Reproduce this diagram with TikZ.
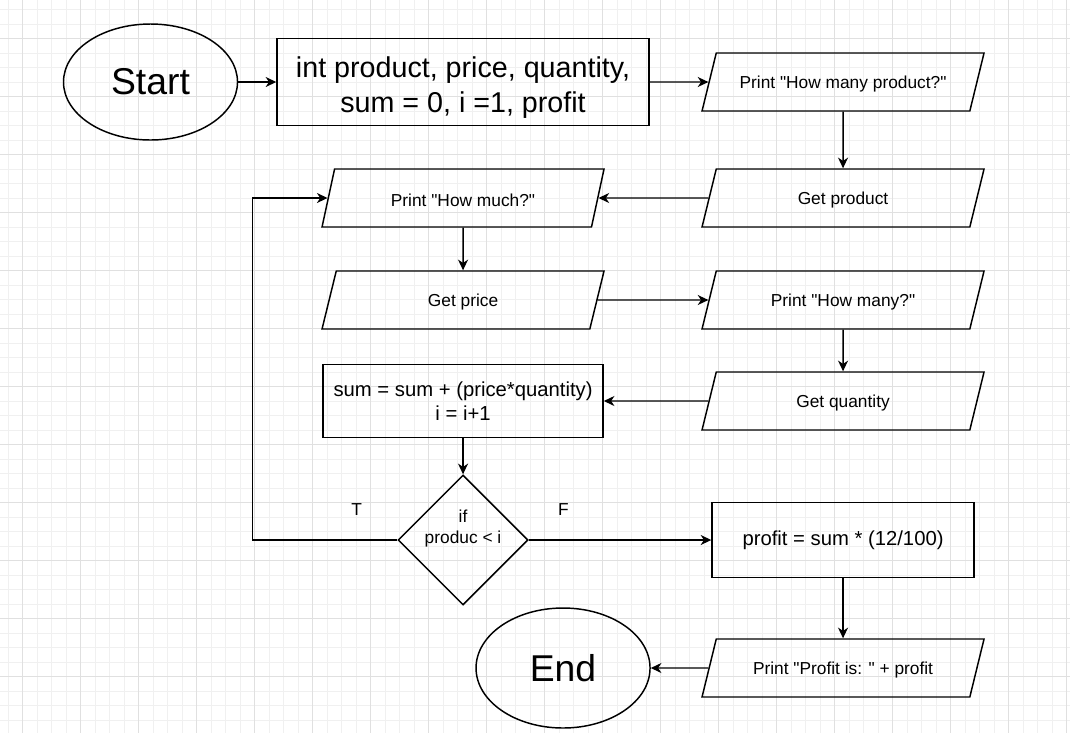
\documentclass[tikz,border=0pt]{standalone}
\usepackage{fontspec}
\setmainfont{Liberation Sans}[Ligatures=TeXOff]
\usetikzlibrary{shapes.geometric,positioning,arrows.meta}

\tikzset{
  term/.style={ellipse, draw, line width=1.1pt, minimum width=130.5pt, minimum height=87pt, font=\fontsize{28}{34}\selectfont},
  proc/.style={rectangle, draw, line width=1.1pt, align=center, font=\fontsize{15.2}{18.2}\selectfont},
  io/.style={trapezium, trapezium left angle=64, trapezium right angle=116, trapezium stretches body, draw, line width=1.1pt, minimum width=211.5pt, minimum height=43.5pt, font=\fontsize{13}{15.6}\selectfont, execute at begin node=\rule{0pt}{12.5pt}},
  decide/.style={diamond, draw, line width=1.1pt, aspect=1, minimum width=97.5pt, minimum height=97.5pt, inner sep=-2.5pt, align=center, font=\fontsize{13}{15.6}\selectfont},
  lbl/.style={font=\fontsize{13}{15.6}\selectfont, inner sep=0pt},
  flow/.style={-{Stealth[length=8pt,width=7.5pt,inset=2.5pt]}, line width=1.1pt},
  minorgrid/.style={draw=black!6, line width=0.75pt},
  majorgrid/.style={draw=black!12, line width=0.75pt}
}

\begin{document}
\begin{tikzpicture}[x=0.75pt, y=-0.75pt, on grid]
  \useasboundingbox (0,0) rectangle (1070,733);
  % background grid
  \foreach \i in {0,...,73} \draw[minorgrid] ({8.2+14.5*\i},0) -- ({8.2+14.5*\i},733);
  \foreach \i in {0,...,49} \draw[minorgrid] (0,{9.7+14.5*\i}) -- (1070,{9.7+14.5*\i});
  \foreach \i in {0,...,18} \draw[majorgrid] ({22.7+58*\i},0) -- ({22.7+58*\i},733);
  \foreach \i in {0,...,11} \draw[majorgrid] (0,{38.7+58*\i}) -- (1070,{38.7+58*\i});

  \node[term] (start) at (150.5,82) {Start};
  \node[proc, minimum width=279pt, minimum height=65.25pt, font=\fontsize{21.5}{26.5}\selectfont] [right=234.4pt of start] (init) {\rule{0pt}{24pt}int product, price, quantity,\\ sum = 0, i =1, profit};
  \node[io] [right=285pt of init] (askprod) {Print "How many product?"};
  \node[io] [below=87pt of askprod] (getprod) {Get product};
  \node[io] [left=285pt of getprod] (askprice) {Print "How much?"};
  \node[io] [below=76.5pt of askprice] (getprice) {Get price};
  \node[io] [right=285pt of getprice] (askqty) {Print "How many?"};
  \node[io] [below=75.75pt of askqty] (getqty) {Get quantity};
  \node[proc, minimum width=210pt, minimum height=54.75pt] [left=285pt of getqty] (sum) {sum = sum + (price*quantity)\\ i = i+1};
  \node[decide] [below=104.25pt of sum] (check) {if\\ produc < i\\ \strut};
  \node[proc, minimum width=196.5pt, minimum height=56.25pt] [right=285pt of check] (profit) {profit = sum * (12/100)};
  \node[io] [below=96pt of profit] (showprofit) {Print "Profit is: " + profit};
  \node[term, minimum height=90pt] [left=210pt of showprofit] (end) {End};
  \coordinate [left=158pt of check] (back);

  \draw[flow] (start) -- (init);
  \draw[flow] (init) -- (askprod);
  \draw[flow] (askprod) -- (getprod);
  \draw[flow] (getprod) -- (askprice);
  \draw[flow] (askprice) -- (getprice);
  \draw[flow] (getprice) -- (askqty);
  \draw[flow] (askqty) -- (getqty);
  \draw[flow] (getqty) -- (sum);
  \draw[flow] (sum) -- (check);
  \draw[flow] (check.west) -- node[lbl, pos=0.28, yshift=22.5pt] (t) {T} (back) |- (askprice);
  \draw[flow] (check) -- node[lbl, pos=0.19, yshift=22.5pt] (f) {F} (profit);
  \draw[flow] (profit) -- (showprofit);
  \draw[flow] (showprofit) -- (end);
\end{tikzpicture}
\end{document}
